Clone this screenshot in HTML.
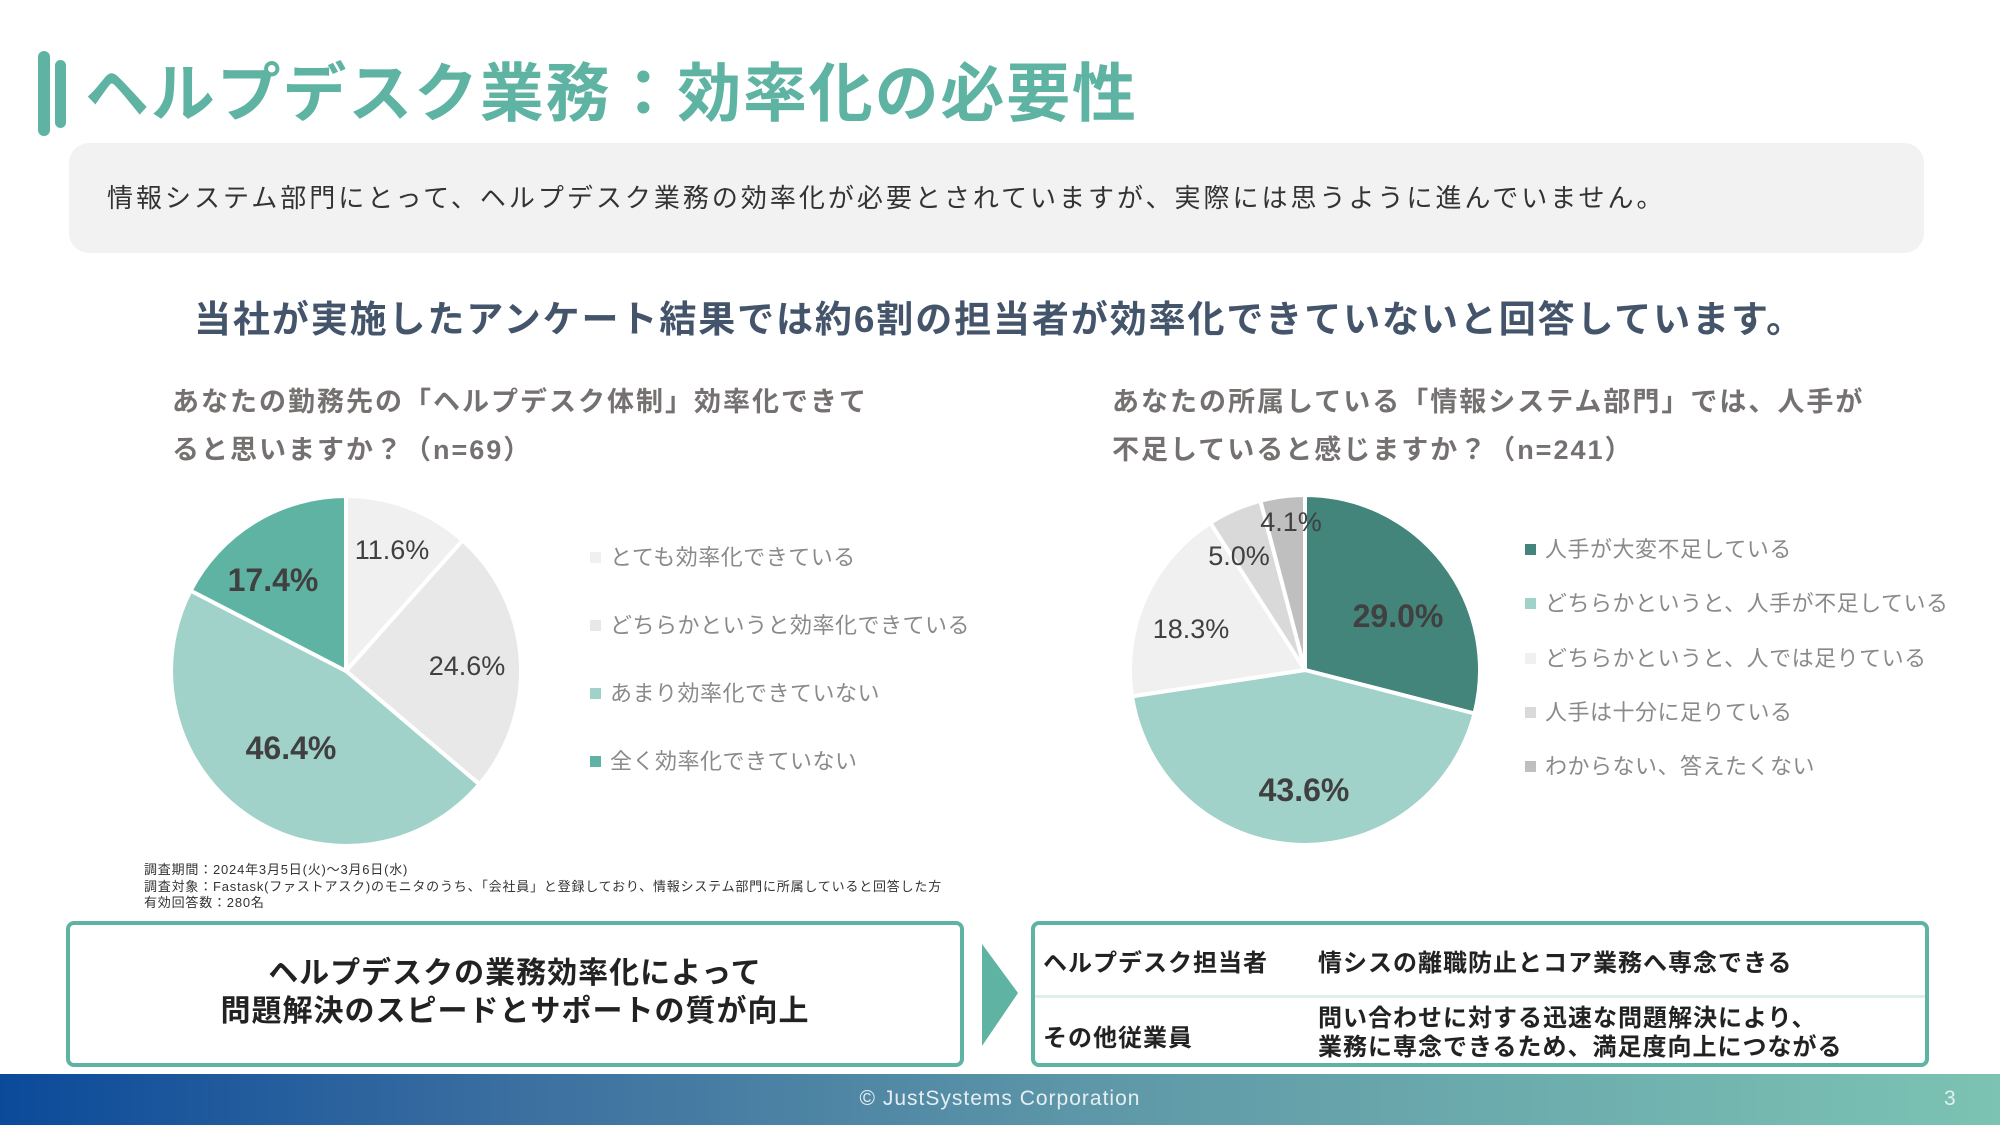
<!DOCTYPE html>
<html><head><meta charset="utf-8">
<style>
*{margin:0;padding:0;box-sizing:border-box}
body{width:2000px;height:1125px;background:#fff;position:relative;overflow:hidden;font-family:"Liberation Sans","Noto Sans CJK JP",sans-serif}
.a{position:absolute;white-space:nowrap}
.bar{position:absolute;background:#5fb3a3;border-radius:6px}
.leg{position:absolute;font-size:22px;color:#8a8a8a;white-space:nowrap;letter-spacing:0.5px}
.leg i{display:inline-block;width:11px;height:11px;margin-right:9px;vertical-align:2px}
</style></head><body>
<div class="bar" style="left:38px;top:51px;width:12px;height:85px"></div>
<div class="bar" style="left:55px;top:60px;width:11px;height:68px"></div>
<div class="a" style="left:85px;top:54px;font-size:64px;font-weight:bold;color:#5fb3a3;letter-spacing:1.8px;line-height:80px">ヘルプデスク業務：効率化の必要性</div>
<div style="position:absolute;left:69px;top:143px;width:1855px;height:110px;background:#f2f2f2;border-radius:20px"></div>
<div class="a" style="left:107px;top:180px;font-size:26px;color:#333;letter-spacing:3px;line-height:36px">情報システム部門にとって、ヘルプデスク業務の効率化が必要とされていますが、実際には思うように進んでいません。</div>
<div class="a" style="left:194px;top:295px;font-size:37px;font-weight:bold;color:#44546a;letter-spacing:1.9px;line-height:50px">当社が実施したアンケート結果では約6割の担当者が効率化できていないと回答しています。</div>
<div class="a" style="left:172px;top:378px;font-size:27px;font-weight:bold;color:#767171;line-height:48px;letter-spacing:2px">あなたの勤務先の「ヘルプデスク体制」効率化できて<br>ると思いますか？（n=69）</div>
<div class="a" style="left:1112px;top:378px;font-size:27px;font-weight:bold;color:#767171;line-height:48px;letter-spacing:2px">あなたの所属している「情報システム部門」では、人手が<br>不足していると感じますか？（n=241）</div>
<svg style="position:absolute;left:0;top:0" width="2000" height="1125">
<g stroke="#fff" stroke-width="4" stroke-linejoin="round">
<path d="M346 671 L346 496 A175 175 0 0 1 462.6 540.4 Z" fill="#f0f0f0"/>
<path d="M346 671 L462.6 540.4 A175 175 0 0 1 479.4 784.3 Z" fill="#e8e8e8"/>
<path d="M346 671 L479.4 784.3 A175 175 0 0 1 190.6 590.6 Z" fill="#a0d2ca"/>
<path d="M346 671 L190.6 590.6 A175 175 0 0 1 346 496 Z" fill="#5fb3a3"/>
<path d="M1305 670 L1305 495 A175 175 0 0 1 1474.5 713.5 Z" fill="#43857a"/>
<path d="M1305 670 L1474.5 713.5 A175 175 0 0 1 1132 696.3 Z" fill="#a0d2ca"/>
<path d="M1305 670 L1132 696.3 A175 175 0 0 1 1210.3 522.8 Z" fill="#f0f0f0"/>
<path d="M1305 670 L1210.3 522.8 A175 175 0 0 1 1260.4 500.8 Z" fill="#d9d9d9"/>
<path d="M1305 670 L1260.4 500.8 A175 175 0 0 1 1305 495 Z" fill="#bfbfbf"/>
</g>
<g font-family="Liberation Sans, sans-serif" text-anchor="middle" fill="#404040">
<text x="392" y="559" font-size="27">11.6%</text>
<text x="467" y="675" font-size="27">24.6%</text>
<text x="291" y="759" font-size="32" font-weight="bold">46.4%</text>
<text x="273" y="591" font-size="32" font-weight="bold">17.4%</text>
<text x="1398" y="627" font-size="32" font-weight="bold">29.0%</text>
<text x="1304" y="801" font-size="32" font-weight="bold">43.6%</text>
<text x="1191" y="638" font-size="27">18.3%</text>
<text x="1239" y="565" font-size="27">5.0%</text>
<text x="1291" y="531" font-size="27">4.1%</text>
</g>
<polygon points="982,944 1018,993 982,1046" fill="#5fb3a3"/>
</svg>
<div class="leg" style="left:590px;top:540px"><i style="background:#f0f0f0"></i>とても効率化できている</div>
<div class="leg" style="left:590px;top:608px"><i style="background:#e8e8e8"></i>どちらかというと効率化できている</div>
<div class="leg" style="left:590px;top:676px"><i style="background:#a0d2ca"></i>あまり効率化できていない</div>
<div class="leg" style="left:590px;top:744px"><i style="background:#5fb3a3"></i>全く効率化できていない</div>
<div class="leg" style="left:1525px;top:532px"><i style="background:#43857a"></i>人手が大変不足している</div>
<div class="leg" style="left:1525px;top:586px"><i style="background:#a0d2ca"></i>どちらかというと、人手が不足している</div>
<div class="leg" style="left:1525px;top:641px"><i style="background:#f0f0f0"></i>どちらかというと、人では足りている</div>
<div class="leg" style="left:1525px;top:695px"><i style="background:#d9d9d9"></i>人手は十分に足りている</div>
<div class="leg" style="left:1525px;top:749px"><i style="background:#bfbfbf"></i>わからない、答えたくない</div>
<div class="a" style="left:144px;top:862px;font-size:13px;color:#333;line-height:16.5px;letter-spacing:0.8px">調査期間：2024年3月5日(火)～3月6日(水)<br>調査対象：Fastask(ファストアスク)のモニタのうち、「会社員」と登録しており、情報システム部門に所属していると回答した方<br>有効回答数：280名</div>
<div style="position:absolute;left:66px;top:921px;width:898px;height:146px;border:4px solid #5fb3a3;border-radius:8px;text-align:center;font-size:30px;font-weight:bold;color:#222;line-height:38px;padding-top:30px;letter-spacing:1px">ヘルプデスクの業務効率化によって<br>問題解決のスピードとサポートの質が向上</div>
<div style="position:absolute;left:1031px;top:921px;width:898px;height:146px;border:4px solid #5fb3a3;border-radius:8px"></div>
<div style="position:absolute;left:1035px;top:995px;width:890px;height:3px;background:#dff0ec"></div>
<div class="a" style="left:1043px;top:943px;font-size:24px;font-weight:bold;color:#222;letter-spacing:1px">ヘルプデスク担当者</div>
<div class="a" style="left:1318px;top:943px;font-size:24px;font-weight:bold;color:#222;letter-spacing:1px">情シスの離職防止とコア業務へ専念できる</div>
<div class="a" style="left:1043px;top:1018px;font-size:24px;font-weight:bold;color:#222;letter-spacing:1px">その他従業員</div>
<div class="a" style="left:1318px;top:1004px;font-size:24px;font-weight:bold;color:#222;letter-spacing:1px;line-height:29px">問い合わせに対する迅速な問題解決により、<br>業務に専念できるため、満足度向上につながる</div>
<div style="position:absolute;left:0;top:1074px;width:2000px;height:51px;background:linear-gradient(90deg,#0b4a9a 0%,#3a6ea0 25%,#5e98a8 55%,#7cc3b3 100%)"></div>
<div class="a" style="left:0;width:2000px;top:1087px;text-align:center;font-size:21px;color:#e6eef3;letter-spacing:1px">© JustSystems Corporation</div>
<div class="a" style="left:1944px;top:1087px;font-size:21px;color:#e6eef3">3</div>
</body></html>
